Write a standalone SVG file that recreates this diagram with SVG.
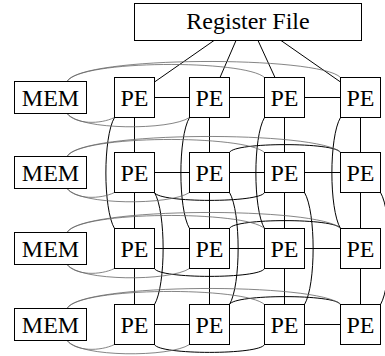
<svg xmlns="http://www.w3.org/2000/svg" width="385" height="356" viewBox="0 0 385 356">
<style>
.box{fill:#fff;stroke:#000;stroke-width:1}
.t{font-family:"Liberation Serif","Times New Roman",serif;font-size:24px;fill:#000;text-anchor:middle}
.c{fill:none;stroke:#000;stroke-width:1}
.g{fill:none;stroke:#666;stroke-width:0.8}
</style>
<rect width="385" height="356" fill="#fff"/>
<g id="connectors">
<g id="regfile-links" class="c">
<path d="M214,40.5 L154.5,82"/>
<path d="M236,40.5 L220,77.5"/>
<path d="M258,40.5 L275,77.5"/>
<path d="M281,40.5 L340.5,82"/>
</g>
<g id="mesh" class="c">
<path d="M154.5,97.5H189.5M229.5,97.5H264.5M304.5,97.5H340.5"/>
<path d="M154.5,172.5H189.5M229.5,172.5H264.5M304.5,172.5H340.5"/>
<path d="M154.5,248.5H189.5M229.5,248.5H264.5M304.5,248.5H340.5"/>
<path d="M154.5,324.5H189.5M229.5,324.5H264.5M304.5,324.5H340.5"/>
<path d="M134.5,117.5V152.5M209.5,117.5V152.5M284.5,117.5V152.5M360.5,117.5V152.5"/>
<path d="M134.5,192.5V228.5M209.5,192.5V228.5M284.5,192.5V228.5M360.5,192.5V228.5"/>
<path d="M134.5,268.5V304.5M209.5,268.5V304.5M284.5,268.5V304.5M360.5,268.5V304.5"/>
</g>
<g id="skip-vertical" class="c">
<path d="M114.5,117.5 C103,137 103,209 114.5,228.5"/>
<path d="M189.5,117.5 C178,137 178,209 189.5,228.5"/>
<path d="M264.5,117.5 C253,137 253,209 264.5,228.5"/>
<path d="M340.5,117.5 C329,137 329,209 340.5,228.5"/>
<path d="M154.5,192.5 C166,212 166,285 154.5,304.5"/>
<path d="M229.5,192.5 C241,212 241,285 229.5,304.5"/>
<path d="M304.5,192.5 C316,212 316,285 304.5,304.5"/>
<path d="M380.5,192.5 C392,212 392,285 380.5,304.5"/>
</g>
<g id="skip-horizontal" class="c">
<path d="M229.5,152.5 C234,142 336,142 340.5,152.5"/>
<path d="M154.5,192.5 C159,203 260,203 264.5,192.5"/>
<path d="M229.5,228.5 C234,218 336,218 340.5,228.5"/>
<path d="M154.5,268.5 C159,279 260,279 264.5,268.5"/>
<path d="M229.5,304.5 C234,294 336,294 340.5,304.5"/>
<path d="M154.5,344.5 C159,355 260,355 264.5,344.5"/>
</g>
<g id="mem-links" class="g">
<path d="M67,81.5 C80,55.5 320,55.5 340.5,77.5"/>
<path d="M67,81.5 C80,59.5 245,59.5 264.5,77.5"/>
<path d="M67,113.5 C80,130.5 170,130.5 189.5,117.5"/>
<path d="M67,113.5 C76,124.5 100,124.5 114.5,117.5"/>
<path d="M67,156.5 C80,130.5 320,130.5 340.5,152.5"/>
<path d="M67,156.5 C80,134.5 245,134.5 264.5,152.5"/>
<path d="M67,188.5 C80,205.5 170,205.5 189.5,192.5"/>
<path d="M67,188.5 C76,199.5 100,199.5 114.5,192.5"/>
<path d="M67,232.5 C80,206.5 320,206.5 340.5,228.5"/>
<path d="M67,232.5 C80,210.5 245,210.5 264.5,228.5"/>
<path d="M67,264.5 C80,281.5 170,281.5 189.5,268.5"/>
<path d="M67,264.5 C76,275.5 100,275.5 114.5,268.5"/>
<path d="M67,308.5 C80,282.5 320,282.5 340.5,304.5"/>
<path d="M67,308.5 C80,286.5 245,286.5 264.5,304.5"/>
<path d="M67,340.5 C80,357.5 170,357.5 189.5,344.5"/>
<path d="M67,340.5 C76,351.5 100,351.5 114.5,344.5"/>
</g>
</g>
<g id="regfile"><rect class="box" x="134.5" y="3.5" width="227" height="37"/><text class="t" x="248" y="29">Register File</text></g>
<g id="mem1"><rect class="box" x="14.5" y="81.5" width="72" height="32"/><text class="t" x="50.5" y="105.5">MEM</text></g>
<g id="mem2"><rect class="box" x="14.5" y="156.5" width="72" height="32"/><text class="t" x="50.5" y="180.5">MEM</text></g>
<g id="mem3"><rect class="box" x="14.5" y="232.5" width="72" height="32"/><text class="t" x="50.5" y="256.5">MEM</text></g>
<g id="mem4"><rect class="box" x="14.5" y="308.5" width="72" height="32"/><text class="t" x="50.5" y="332.5">MEM</text></g>
<g id="pe11"><rect class="box" x="114.5" y="77.5" width="40" height="40"/><text class="t" x="134.5" y="105.5">PE</text></g>
<g id="pe12"><rect class="box" x="189.5" y="77.5" width="40" height="40"/><text class="t" x="209.5" y="105.5">PE</text></g>
<g id="pe13"><rect class="box" x="264.5" y="77.5" width="40" height="40"/><text class="t" x="284.5" y="105.5">PE</text></g>
<g id="pe14"><rect class="box" x="340.5" y="77.5" width="40" height="40"/><text class="t" x="360.5" y="105.5">PE</text></g>
<g id="pe21"><rect class="box" x="114.5" y="152.5" width="40" height="40"/><text class="t" x="134.5" y="180.5">PE</text></g>
<g id="pe22"><rect class="box" x="189.5" y="152.5" width="40" height="40"/><text class="t" x="209.5" y="180.5">PE</text></g>
<g id="pe23"><rect class="box" x="264.5" y="152.5" width="40" height="40"/><text class="t" x="284.5" y="180.5">PE</text></g>
<g id="pe24"><rect class="box" x="340.5" y="152.5" width="40" height="40"/><text class="t" x="360.5" y="180.5">PE</text></g>
<g id="pe31"><rect class="box" x="114.5" y="228.5" width="40" height="40"/><text class="t" x="134.5" y="256.5">PE</text></g>
<g id="pe32"><rect class="box" x="189.5" y="228.5" width="40" height="40"/><text class="t" x="209.5" y="256.5">PE</text></g>
<g id="pe33"><rect class="box" x="264.5" y="228.5" width="40" height="40"/><text class="t" x="284.5" y="256.5">PE</text></g>
<g id="pe34"><rect class="box" x="340.5" y="228.5" width="40" height="40"/><text class="t" x="360.5" y="256.5">PE</text></g>
<g id="pe41"><rect class="box" x="114.5" y="304.5" width="40" height="40"/><text class="t" x="134.5" y="332.5">PE</text></g>
<g id="pe42"><rect class="box" x="189.5" y="304.5" width="40" height="40"/><text class="t" x="209.5" y="332.5">PE</text></g>
<g id="pe43"><rect class="box" x="264.5" y="304.5" width="40" height="40"/><text class="t" x="284.5" y="332.5">PE</text></g>
<g id="pe44"><rect class="box" x="340.5" y="304.5" width="40" height="40"/><text class="t" x="360.5" y="332.5">PE</text></g>
</svg>
